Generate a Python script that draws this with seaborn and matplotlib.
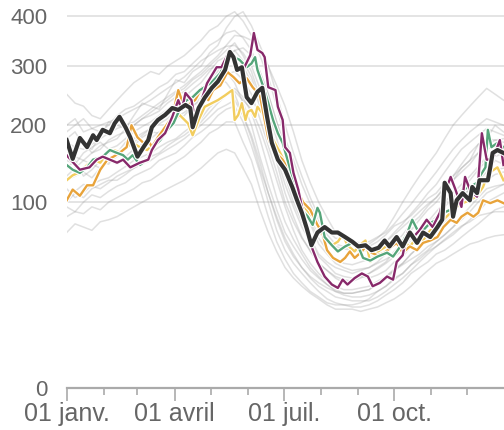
import numpy as np
import pandas as pd
from matplotlib import pyplot as plt
import matplotlib.patheffects as pe
import seaborn as sns

# jours depuis le 01 janv. et valeurs
black_days = [0, 5, 11, 17, 22, 25, 30, 36, 40, 44, 49, 53, 59, 64, 68, 71, 76, 82, 88, 93,
              99, 103, 105, 110, 115, 121, 126, 132, 136, 139, 142, 146, 150, 154, 159, 163,
              167, 171, 176, 182, 188, 192, 196, 200, 204, 209, 215, 221, 226, 232, 238, 243,
              249, 254, 260, 265, 269, 275, 280, 286, 292, 297, 303, 309, 313, 315, 320, 322,
              325, 330, 336, 338, 342, 344, 351, 353, 355, 359, 364]
black_vals = [178, 152, 181, 168, 185, 178, 193, 188, 203, 213, 197, 182, 155, 168, 178, 197,
              208, 216, 227, 224, 232, 227, 197, 227, 244, 261, 272, 293, 327, 317, 293, 298,
              245, 235, 254, 261, 213, 174, 151, 138, 117, 102, 89, 74, 59, 70, 75, 70, 70, 66,
              62, 58, 59, 55, 57, 63, 58, 66, 58, 70, 61, 70, 66, 75, 82, 122, 110, 85, 102,
              110, 102, 117, 110, 125, 125, 141, 160, 164, 160]

purple_days = [0, 5, 11, 19, 25, 30, 36, 42, 47, 53, 61, 68, 71, 76, 82, 88, 93, 96, 99, 104,
               107, 111, 117, 125, 129, 136, 142, 147, 153, 156, 159, 163, 165, 168, 174, 176,
               180, 182, 186, 189, 193, 196, 200, 204, 209, 215, 221, 226, 230, 234, 240, 246,
               251, 255, 261, 267, 272, 275, 280, 284, 289, 294, 300, 305, 311, 315, 320, 324,
               329, 332, 336, 342, 346, 350, 355, 361, 364]
purple_vals = [157, 148, 138, 141, 151, 155, 151, 147, 151, 141, 147, 151, 164, 178, 188, 213,
               240, 224, 252, 240, 208, 232, 269, 298, 298, 331, 298, 293, 321, 365, 331, 325,
               317, 262, 257, 229, 208, 168, 160, 134, 114, 95, 75, 58, 46, 36, 31, 29, 34, 31,
               35, 38, 36, 30, 32, 36, 34, 46, 51, 70, 66, 72, 82, 75, 89, 110, 129, 114, 95,
               129, 114, 106, 188, 151, 151, 178, 144]

green_days = [0, 5, 11, 17, 22, 30, 36, 42, 47, 51, 55, 61, 67, 72, 78, 84, 89, 94, 100, 105,
              111, 120, 128, 134, 139, 144, 150, 154, 157, 159, 164, 168, 172, 176, 180, 184,
              189, 191, 196, 201, 205, 209, 211, 215, 221, 226, 232, 238, 243, 247, 253, 259,
              267, 272, 278, 284, 288, 292, 297, 303, 309, 314, 320, 325, 330, 336, 342, 344,
              349, 351, 354, 359, 364]
green_vals = [144, 138, 134, 141, 151, 155, 164, 160, 157, 151, 157, 144, 151, 168, 178, 193,
              203, 224, 240, 245, 257, 269, 287, 317, 317, 312, 298, 305, 317, 293, 262, 235,
              208, 188, 174, 151, 125, 105, 92, 85, 77, 94, 89, 66, 59, 54, 58, 61, 58, 49, 47,
              50, 53, 50, 58, 70, 82, 73, 72, 79, 82, 89, 92, 102, 114, 117, 122, 129, 141,
              193, 168, 174, 168]

orange_days = [0, 5, 11, 17, 22, 28, 34, 39, 44, 50, 54, 59, 64, 68, 71, 76, 82, 88, 93, 96,
               101, 107, 113, 118, 122, 128, 134, 139, 144, 150, 155, 161, 168, 172, 180, 186,
               192, 197, 203, 209, 213, 217, 222, 228, 232, 236, 240, 246, 250, 254, 259, 265,
               271, 275, 280, 286, 292, 297, 303, 309, 314, 320, 325, 329, 334, 339, 343, 347,
               353, 359, 364]
orange_vals = [102, 114, 107, 119, 119, 138, 151, 155, 160, 168, 200, 182, 174, 178, 168, 182,
               197, 213, 257, 240, 232, 240, 262, 240, 257, 265, 289, 280, 269, 278, 262, 248,
               181, 164, 151, 135, 114, 100, 92, 77, 70, 55, 49, 46, 49, 54, 49, 54, 59, 53,
               51, 53, 58, 61, 53, 58, 55, 61, 63, 66, 75, 82, 79, 85, 89, 85, 89, 102, 99,
               102, 99]

yellow_days = [0, 5, 11, 17, 22, 28, 34, 39, 44, 50, 55, 61, 67, 72, 78, 84, 89, 94, 101, 105,
               110, 115, 121, 126, 132, 138, 140, 143, 146, 149, 151, 154, 157, 159, 163, 166,
               171, 178, 184, 189, 193, 196, 201, 207, 211, 215, 221, 226, 230, 234, 240, 244,
               249, 253, 257, 261, 268, 274, 280, 286, 292, 297, 303, 309, 314, 320, 325, 330,
               336, 342, 347, 350, 353, 359, 364]
yellow_vals = [125, 131, 135, 144, 151, 147, 160, 164, 161, 168, 174, 168, 164, 171, 182, 193,
               205, 216, 203, 185, 208, 229, 235, 240, 248, 257, 208, 216, 235, 208, 221, 224,
               213, 229, 219, 216, 182, 160, 141, 129, 110, 99, 90, 82, 70, 66, 59, 62, 68, 59,
               54, 59, 63, 46, 51, 55, 59, 62, 63, 58, 66, 63, 72, 75, 82, 89, 95, 99, 102,
               107, 117, 129, 135, 141, 125]

# années précédentes (en gris), un point par semaine
grey_days = list(range(0, 365, 7))
grey_years = {
    "A": [180, 190, 170, 165, 185, 205, 200, 195, 215, 235, 230, 225, 250, 275, 270, 290, 300,
          325, 340, 375, 400, 410, 380, 340, 300, 250, 200, 160, 130, 105, 85, 72, 65, 64, 60,
          55, 58, 62, 68, 76, 80, 86, 95, 104, 110, 122, 130, 140, 150, 172, 180, 200, 190],
    "B": [95, 90, 100, 108, 105, 112, 118, 122, 130, 135, 140, 150, 155, 160, 170, 182, 190,
          200, 215, 225, 230, 205, 170, 135, 100, 72, 55, 45, 38, 32, 27, 23, 21, 20, 19, 19,
          20, 22, 25, 28, 32, 38, 42, 46, 52, 55, 60, 66, 72, 78, 85, 92, 95],
    "C": [140, 150, 130, 138, 150, 145, 160, 168, 170, 182, 190, 188, 200, 212, 220, 230, 240,
          258, 270, 285, 290, 275, 250, 210, 170, 135, 100, 80, 65, 55, 45, 40, 35, 32, 33, 36,
          35, 37, 40, 46, 50, 58, 65, 70, 80, 88, 95, 105, 115, 125, 135, 150, 145],
    "D": [160, 168, 175, 160, 165, 178, 185, 190, 200, 210, 215, 222, 235, 245, 255, 268, 280,
          295, 300, 290, 270, 235, 200, 155, 120, 92, 70, 58, 48, 40, 35, 31, 28, 26, 26, 27,
          28, 31, 34, 40, 45, 52, 58, 64, 72, 80, 90, 100, 110, 118, 125, 132, 135],
    "E": [250, 235, 230, 215, 210, 225, 240, 255, 270, 280, 290, 285, 300, 310, 320, 335, 350,
          370, 380, 400, 410, 390, 360, 320, 280, 230, 180, 150, 120, 98, 80, 68, 60, 58, 55,
          54, 55, 58, 62, 68, 75, 82, 90, 98, 105, 115, 125, 135, 145, 160, 170, 178, 180],
    "F": [115, 105, 110, 120, 125, 128, 135, 142, 150, 155, 160, 168, 175, 180, 190, 200, 210,
          228, 240, 250, 260, 245, 220, 180, 140, 105, 80, 64, 52, 42, 36, 31, 27, 25, 24, 24,
          25, 27, 30, 34, 38, 44, 50, 55, 62, 68, 75, 82, 90, 100, 110, 115, 120],
    "G": [130, 140, 150, 145, 140, 148, 155, 165, 175, 185, 195, 205, 215, 225, 235, 248, 260,
          275, 290, 310, 330, 335, 320, 290, 250, 205, 160, 125, 100, 78, 60, 52, 45, 42, 40,
          41, 42, 45, 48, 52, 58, 65, 72, 80, 90, 100, 110, 120, 130, 142, 155, 162, 165],
    "H": [70, 78, 75, 72, 80, 82, 85, 90, 95, 100, 105, 110, 115, 120, 125, 132, 140, 150, 160,
          165, 160, 140, 120, 92, 70, 54, 42, 35, 30, 26, 23, 20, 18, 18, 18, 17, 18, 19, 21,
          23, 26, 30, 35, 40, 45, 48, 52, 56, 60, 62, 65, 67, 68],
    "I": [200, 210, 190, 195, 200, 205, 210, 218, 225, 232, 240, 250, 260, 270, 280, 295, 310,
          320, 330, 338, 340, 325, 300, 260, 220, 180, 140, 115, 95, 82, 70, 64, 58, 56, 55, 57,
          60, 65, 72, 85, 100, 115, 130, 145, 160, 180, 200, 215, 230, 245, 260, 250, 240],
    "J": [150, 145, 160, 168, 175, 165, 170, 180, 190, 198, 205, 215, 225, 235, 245, 258, 270,
          290, 310, 318, 320, 300, 270, 230, 190, 155, 120, 95, 75, 62, 50, 44, 38, 36, 35, 36,
          38, 41, 45, 50, 55, 62, 70, 78, 85, 95, 105, 115, 125, 138, 150, 155, 160],
    "K": [105, 112, 120, 118, 115, 122, 130, 135, 140, 145, 150, 158, 165, 172, 180, 190, 200,
          212, 225, 232, 240, 215, 185, 148, 110, 85, 65, 52, 42, 35, 30, 27, 24, 23, 22, 22,
          22, 24, 27, 31, 35, 40, 46, 52, 58, 63, 68, 75, 82, 90, 100, 105, 110],
    "L": [175, 168, 165, 172, 180, 188, 195, 200, 205, 215, 225, 235, 245, 255, 265, 278, 290,
          305, 320, 340, 360, 358, 350, 330, 300, 265, 230, 190, 150, 122, 100, 84, 70, 66, 62,
          61, 62, 66, 70, 78, 88, 98, 110, 122, 135, 150, 165, 178, 190, 200, 210, 205, 200],
    "M": [125, 130, 135, 128, 140, 150, 145, 155, 165, 172, 180, 190, 195, 208, 215, 230, 245,
          262, 280, 270, 250, 215, 180, 140, 110, 82, 62, 50, 42, 36, 32, 29, 27, 26, 26, 27,
          28, 32, 36, 41, 45, 52, 58, 66, 75, 84, 92, 104, 115, 122, 130, 138, 140],
    "N": [190, 200, 210, 195, 190, 200, 215, 225, 230, 240, 250, 262, 270, 285, 290, 305, 320,
          340, 350, 365, 370, 355, 330, 290, 250, 205, 170, 130, 100, 80, 65, 55, 48, 45, 44,
          46, 48, 55, 62, 70, 78, 88, 98, 110, 120, 135, 150, 165, 175, 185, 195, 190, 185],
    "O": [100, 110, 105, 115, 120, 125, 125, 132, 140, 148, 155, 160, 170, 178, 185, 195, 205,
          220, 235, 248, 255, 240, 225, 195, 160, 125, 95, 72, 55, 45, 38, 33, 30, 28, 28, 29,
          30, 33, 36, 40, 44, 48, 52, 58, 62, 68, 75, 85, 95, 105, 115, 118, 120],
    "P": [165, 155, 150, 160, 170, 175, 180, 195, 200, 210, 220, 230, 240, 252, 260, 275, 285,
          300, 315, 330, 345, 320, 290, 245, 210, 165, 130, 100, 80, 65, 52, 46, 42, 40, 38, 40,
          42, 46, 52, 60, 68, 78, 85, 96, 105, 118, 130, 145, 160, 172, 180, 178, 175],
    "Q": [85, 90, 88, 95, 92, 100, 105, 110, 115, 122, 125, 132, 140, 148, 155, 165, 175, 188,
          195, 205, 205, 175, 150, 115, 85, 62, 48, 38, 32, 27, 24, 21, 20, 20, 20, 21, 23, 27,
          30, 35, 38, 44, 48, 54, 58, 64, 70, 76, 80, 86, 88, 90, 90],
    "R": [145, 135, 140, 150, 155, 152, 160, 175, 180, 188, 195, 202, 210, 222, 230, 245, 255,
          275, 295, 315, 330, 310, 280, 235, 190, 148, 110, 85, 66, 54, 45, 40, 36, 34, 33, 35,
          38, 42, 46, 54, 62, 72, 82, 92, 100, 112, 125, 140, 150, 160, 165, 170, 170],
}

grey_df = pd.concat(
    [pd.DataFrame({"jour": grey_days, "valeur": v, "annee": k}) for k, v in grey_years.items()]
)

plt.rcParams['font.family'] = ['Liberation Sans', 'DejaVu Sans']

fig = plt.figure(figsize=(5.04, 4.30), dpi=100)
ax = fig.add_axes([0.1323, 0.0977, 0.869, 0.9023])

# échelle racine carrée
ax.set_yscale('function', functions=(lambda v: np.sqrt(np.clip(v, 0, None)), lambda v: v ** 2))

sns.lineplot(data=grey_df, x="jour", y="valeur", units="annee", estimator=None,
             color="#999999", alpha=0.3, lw=1.1, ax=ax)

halo = lambda w: [pe.Stroke(linewidth=w, foreground="white"), pe.Normal()]
series = [
    (yellow_days, yellow_vals, "#f2cd5e", 1.7),
    (orange_days, orange_vals, "#e8a33a", 1.7),
    (green_days, green_vals, "#55a57a", 1.7),
    (purple_days, purple_vals, "#87296a", 1.7),
    (black_days, black_vals, "#333333", 3.0),
]
for d, v, c, w in series:
    sns.lineplot(x=d, y=v, color=c, lw=w, ax=ax, path_effects=halo(w + 1.6))

ax.set_xlim(0, 365)
ax.set_ylim(0, 436)
ax.set_yticks([0, 100, 200, 300, 400])
ax.set_xticks([0, 90, 181, 273])
ax.set_xticklabels(["01 janv.", "01 avril", "01 juil.", "01 oct."])
ax.set_xticks([31, 59, 120, 151, 212, 243, 304, 334, 365], minor=True)
ax.set_xlabel("")
ax.set_ylabel("")

ax.grid(axis="y", color="#dddddd", lw=1.1)
ax.set_axisbelow(True)
for s in ["left", "top", "right"]:
    ax.spines[s].set_visible(False)
ax.spines["bottom"].set_color("#aaaaaa")
ax.spines["bottom"].set_linewidth(1.6)

ax.tick_params(axis="y", length=0, pad=14, labelsize=16, labelcolor="#666666")
ax.tick_params(axis="x", which="major", length=9, width=1.2, color="#aaaaaa",
               labelsize=18, labelcolor="#666666", pad=1)
ax.tick_params(axis="x", which="minor", length=5, width=1.2, color="#aaaaaa")

fig.savefig("out.png", dpi=100)
